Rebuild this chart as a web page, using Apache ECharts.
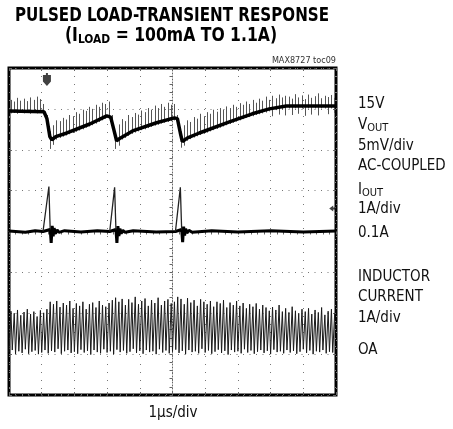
<!DOCTYPE html>
<html>
<head>
<meta charset="utf-8">
<script src="https://cdn.jsdelivr.net/npm/echarts@6/dist/echarts.min.js"></script>
<style>
html,body{margin:0;padding:0;background:#fff;}
#scope{width:453px;height:429px;}
</style>
</head>
<body>
<div id="scope"></div>
<script>
// screen is 10 x 8 divisions, centre = (0,0)
var NARROW = '"Liberation Sans Narrow","DejaVu Sans Condensed",sans-serif';

// VOUT trace (div)
var voutTrace = [
  [-5, 2.95], [-3.93, 2.93], [-3.84, 2.76], [-3.75, 2.32], [-3.69, 2.24], [-3.57, 2.32],
  [-3.23, 2.41], [-2.53, 2.63], [-2.01, 2.83], [-1.89, 2.80], [-1.80, 2.51], [-1.71, 2.22],
  [-1.59, 2.29], [-1.22, 2.46], [-0.49, 2.66], [0.06, 2.78], [0.15, 2.76], [0.24, 2.41],
  [0.30, 2.20], [0.46, 2.29], [0.82, 2.41], [1.74, 2.68], [2.44, 2.88], [2.96, 3.00],
  [3.48, 3.07], [5, 3.07]
];
// switching spikes on VOUT, one every 0.1 div starting at -4.95
var spikeStart = -4.95, spikeStep = 0.1;
var vSpikeHi = [
  3.22,3.18,3.27,3.20,3.25,3.19,3.28,3.22,3.30,3.24,3.12,2.85,2.45,2.60,2.72,2.70,2.78,2.74,2.85,2.82,
  2.92,2.88,2.98,2.95,3.05,3.00,3.10,3.05,3.15,3.12,3.18,2.85,2.42,2.62,2.75,2.70,2.85,2.80,2.90,2.86,
  2.96,2.92,3.02,2.98,3.08,3.02,3.12,3.05,3.15,3.10,3.12,2.85,2.45,2.60,2.72,2.68,2.80,2.76,2.88,2.82,
  2.92,2.88,2.98,2.93,3.02,2.98,3.06,3.02,3.10,3.05,3.14,3.10,3.18,3.12,3.22,3.15,3.25,3.20,3.30,3.22,
  3.32,3.26,3.35,3.28,3.32,3.30,3.25,3.36,3.28,3.33,3.24,3.35,3.27,3.31,3.38,3.26,3.32,3.29,3.34,3.27
];
var vSpikeLo = [
  2.89,2.90,2.88,2.90,2.89,2.90,2.88,2.90,2.89,2.90,2.87,2.70,2.02,2.12,2.25,2.29,2.32,2.35,2.38,2.41,
  2.44,2.47,2.50,2.54,2.57,2.60,2.64,2.68,2.72,2.76,2.76,2.62,2.02,2.10,2.25,2.29,2.34,2.39,2.42,2.45,
  2.48,2.50,2.53,2.56,2.59,2.61,2.64,2.66,2.68,2.70,2.72,2.68,2.05,2.10,2.22,2.26,2.30,2.33,2.36,2.39,
  2.42,2.45,2.48,2.51,2.54,2.57,2.60,2.63,2.66,2.69,2.72,2.75,2.78,2.80,2.82,2.85,2.87,2.89,2.91,2.94,
  2.82,2.97,2.86,2.99,2.84,3.01,2.85,3.01,2.88,3.01,2.83,3.01,2.86,3.01,2.84,3.01,3.01,2.87,3.01,2.90
];

// IOUT trace: thick baseline with ringing, thin load pulses
var ioutTrace = [
  [-5, 0.01], [-4.5, -0.02], [-4.2, 0.02], [-3.96, 0], [-3.74, 0.05], [-3.71, -0.28], [-3.68, 0.14],
  [-3.65, -0.12], [-3.62, 0.08], [-3.58, -0.05], [-3.53, 0.04], [-3.47, -0.02], [-3.3, 0.02],
  [-2.8, -0.01], [-2.3, 0.02], [-1.92, 0], [-1.73, 0.05], [-1.70, -0.28], [-1.67, 0.13],
  [-1.64, -0.11], [-1.61, 0.07], [-1.57, -0.05], [-1.52, 0.03], [-1.45, -0.02], [-1.2, 0.02],
  [-0.5, -0.01], [0.09, 0], [0.28, 0.05], [0.31, -0.26], [0.34, 0.12], [0.37, -0.10], [0.40, 0.07],
  [0.44, -0.04], [0.50, 0.03], [0.6, -0.02], [1.2, 0.02], [2.0, -0.01], [3.0, 0.02], [4.0, -0.01], [5, 0.01]
];
var ioutPulse1 = [[-3.96, 0], [-3.78, 1.10], [-3.75, 0.3], [-3.74, 0.05]];
var ioutPulse2 = [[-1.92, 0], [-1.77, 1.08], [-1.74, 0.3], [-1.73, 0.05]];
var ioutPulse3 = [[0.09, 0], [0.24, 1.08], [0.27, 0.3], [0.28, 0.05]];

// inductor current ripple, one cycle every 0.1 div
var rippleStart = -5, rippleStep = 0.1, ripplePeakAt = 0.06;
var iHi = [
  -1.95,-2.00,-1.92,-2.05,-1.97,-1.90,-2.02,-1.96,-2.08,-1.93,-1.99,-1.90,-1.72,-1.78,-1.70,-1.85,-1.75,-1.80,-1.70,-1.88,
  -1.76,-1.82,-1.72,-1.90,-1.78,-1.74,-1.86,-1.70,-1.80,-1.84,-1.75,-1.68,-1.62,-1.72,-1.65,-1.80,-1.66,-1.74,-1.60,-1.78,
  -1.70,-1.64,-1.82,-1.68,-1.75,-1.62,-1.80,-1.70,-1.66,-1.76,-1.72,-1.60,-1.65,-1.78,-1.63,-1.74,-1.68,-1.82,-1.66,-1.72,
  -1.78,-1.70,-1.84,-1.72,-1.76,-1.68,-1.86,-1.74,-1.80,-1.70,-1.82,-1.75,-1.88,-1.78,-1.84,-1.76,-1.90,-1.80,-1.86,-1.94,
  -1.85,-1.92,-1.80,-1.96,-1.88,-1.98,-1.84,-1.94,-2.00,-1.90,-1.96,-1.88,-2.02,-1.92,-1.98,-1.86,-2.04,-1.95,-1.90,-2.00
];
var iLo = [
  -2.95,-2.90,-3.00,-2.93,-2.97,-2.88,-2.99,-2.94,-2.91,-3.00,-2.96,-2.90,-2.98,-2.92,-2.95,-2.87,-2.99,-2.93,-2.90,-2.97,
  -2.94,-2.99,-2.89,-2.96,-2.92,-3.01,-2.90,-2.95,-2.98,-2.88,-2.96,-2.93,-3.00,-2.89,-2.95,-2.91,-2.98,-2.94,-2.87,-2.97,
  -2.92,-2.99,-2.90,-2.95,-2.93,-3.00,-2.88,-2.96,-2.91,-2.98,-2.94,-2.89,-2.97,-2.92,-3.00,-2.90,-2.95,-2.93,-2.98,-2.87,
  -2.96,-2.91,-2.99,-2.94,-2.89,-2.97,-2.92,-3.01,-2.90,-2.95,-2.93,-2.98,-2.88,-2.96,-2.91,-2.99,-2.94,-2.90,-2.97,-2.92,
  -3.00,-2.89,-2.95,-2.93,-2.98,-2.90,-2.96,-2.92,-2.99,-2.94,-2.88,-2.97,-2.91,-3.00,-2.93,-2.95,-2.90,-2.98,-2.94,-2.96
];

var triggerMark = [[-3.84, 3.72]];
var levelMark = [[4.9, 0.56]];

// build series data
var spikeData = [];
for (var i = 0; i < vSpikeHi.length; i++) {
  spikeData.push([spikeStart + i * spikeStep, vSpikeLo[i], vSpikeHi[i]]);
}
var rippleData = [];
for (var k = 0; k < iHi.length; k++) {
  var t = rippleStart + k * rippleStep;
  rippleData.push([t, iLo[k]]);
  rippleData.push([t + ripplePeakAt, iHi[k]]);
}

var myChart = echarts.init(document.getElementById('scope'));

function edgeAxis(pos) {
  var horiz = pos === 'top' || pos === 'bottom';
  return {
    type: 'value', min: horiz ? -5 : -4, max: horiz ? 5 : 4, interval: 1, position: pos,
    axisLine: {show: false, onZero: false},
    axisTick: {show: true, inside: true, length: 3, lineStyle: {color: '#666'}},
    minorTick: {show: true, splitNumber: 5, length: 2, lineStyle: {color: '#777'}},
    axisLabel: {show: false}, splitLine: {show: false}
  };
}

var option = {
  animation: false,
  backgroundColor: '#fff',
  grid: {left: 9, top: 68, width: 327, height: 327, show: true,
         borderColor: '#000', borderWidth: 3, backgroundColor: '#fff'},
  xAxis: [
    {
      type: 'value', min: -5, max: 5, interval: 1,
      axisLine: {onZero: true, lineStyle: {color: '#666', width: 1, type: [1, 2]}},
      axisTick: {show: true, length: 3, lineStyle: {color: '#666'}},
      minorTick: {show: true, splitNumber: 5, length: 3, lineStyle: {color: '#666'}},
      axisLabel: {show: false},
      splitLine: {show: true, lineStyle: {color: '#777', width: 1, type: [1, 7]}}
    },
    edgeAxis('bottom'),
    edgeAxis('top')
  ],
  yAxis: [
    {
      type: 'value', min: -4, max: 4, interval: 1,
      axisLine: {onZero: true, lineStyle: {color: '#666', width: 1, type: [1, 2]}},
      axisTick: {show: true, length: 3, lineStyle: {color: '#666'}},
      minorTick: {show: true, splitNumber: 5, length: 3, lineStyle: {color: '#666'}},
      axisLabel: {show: false},
      splitLine: {show: true, lineStyle: {color: '#777', width: 1, type: [1, 5.5]}}
    },
    edgeAxis('left'),
    edgeAxis('right')
  ],
  series: [
    {
      name: 'spikes', type: 'custom', data: spikeData,
      renderItem: function (params, api) {
        var a = api.coord([api.value(0), api.value(1)]);
        var b = api.coord([api.value(0), api.value(2)]);
        var x = Math.round(a[0]) + 0.5;
        return {type: 'line', shape: {x1: x, y1: a[1], x2: x, y2: b[1]},
                style: {stroke: '#555', lineWidth: 1}};
      }
    },
    {name: 'VOUT', type: 'line', data: voutTrace, symbol: 'none',
     lineStyle: {color: '#000', width: 3.5}},
    {name: 'IOUT', type: 'line', data: ioutTrace, symbol: 'none',
     lineStyle: {color: '#000', width: 3}},
    {name: 'pulse1', type: 'line', data: ioutPulse1, symbol: 'none', lineStyle: {color: '#222', width: 1.3}},
    {name: 'pulse2', type: 'line', data: ioutPulse2, symbol: 'none', lineStyle: {color: '#222', width: 1.3}},
    {name: 'pulse3', type: 'line', data: ioutPulse3, symbol: 'none', lineStyle: {color: '#222', width: 1.3}},
    {name: 'IL', type: 'line', data: rippleData, symbol: 'none',
     lineStyle: {color: '#1a1a1a', width: 1}},
    {name: 'trig', type: 'scatter', data: triggerMark, symbolSize: [8, 13],
     symbol: 'path://M3,0 L5,0 L5,2 L8,2 L8,8 L4,12 L0,8 L0,2 L3,2 Z', itemStyle: {color: '#111'}},
    {name: 'level', type: 'scatter', data: levelMark, symbolSize: [7, 6],
     symbol: 'path://M0,3 L4,0 L4,2 L7,2 L7,4 L4,4 L4,6 Z', itemStyle: {color: '#111'}}
  ],
  graphic: [
    {type: 'text', x: 172, y: 16, scaleX: 0.885, style: {text: 'PULSED LOAD-TRANSIENT RESPONSE',
      font: 'bold 19px ' + NARROW, fill: '#000', align: 'center', verticalAlign: 'middle'}},
    {type: 'text', x: 171, y: 36, scaleX: 0.915, style: {
      text: '{a|(I}{b|LOAD}{a| = 100mA TO 1.1A)}', align: 'center', verticalAlign: 'middle',
      rich: {a: {font: 'bold 19px ' + NARROW, fill: '#000'},
             b: {font: 'bold 13px ' + NARROW, fill: '#000', padding: [8, 0, 0, 0]}}}},
    {type: 'text', x: 336, y: 61, style: {text: 'MAX8727 toc09', font: '9px ' + NARROW,
      fill: '#333', align: 'right', verticalAlign: 'middle'}}
  ]
};

// right-hand channel labels
var labelX = 358;
var rightLabels = [
  ['15V', 104], ['{a|V}{b|OUT}', 125], ['5mV/div', 146], ['AC-COUPLED', 166],
  ['{a|I}{b|OUT}', 190], ['1A/div', 209], ['0.1A', 233],
  ['INDUCTOR', 277], ['CURRENT', 297], ['1A/div', 318], ['OA', 350]
];
rightLabels.forEach(function (l) {
  option.graphic.push({type: 'text', x: labelX, y: l[1], style: {
    text: l[0], font: '15px ' + NARROW, fill: '#111', verticalAlign: 'middle',
    rich: {a: {font: '15px ' + NARROW, fill: '#111'},
           b: {font: '11px ' + NARROW, fill: '#111', padding: [6, 0, 0, 0]}}}});
});
option.graphic.push({type: 'text', x: 173, y: 413, style: {text: '1\u03bcs/div',
  font: '15px ' + NARROW, fill: '#111', align: 'center', verticalAlign: 'middle'}});

myChart.setOption(option);
</script>
</body>
</html>
